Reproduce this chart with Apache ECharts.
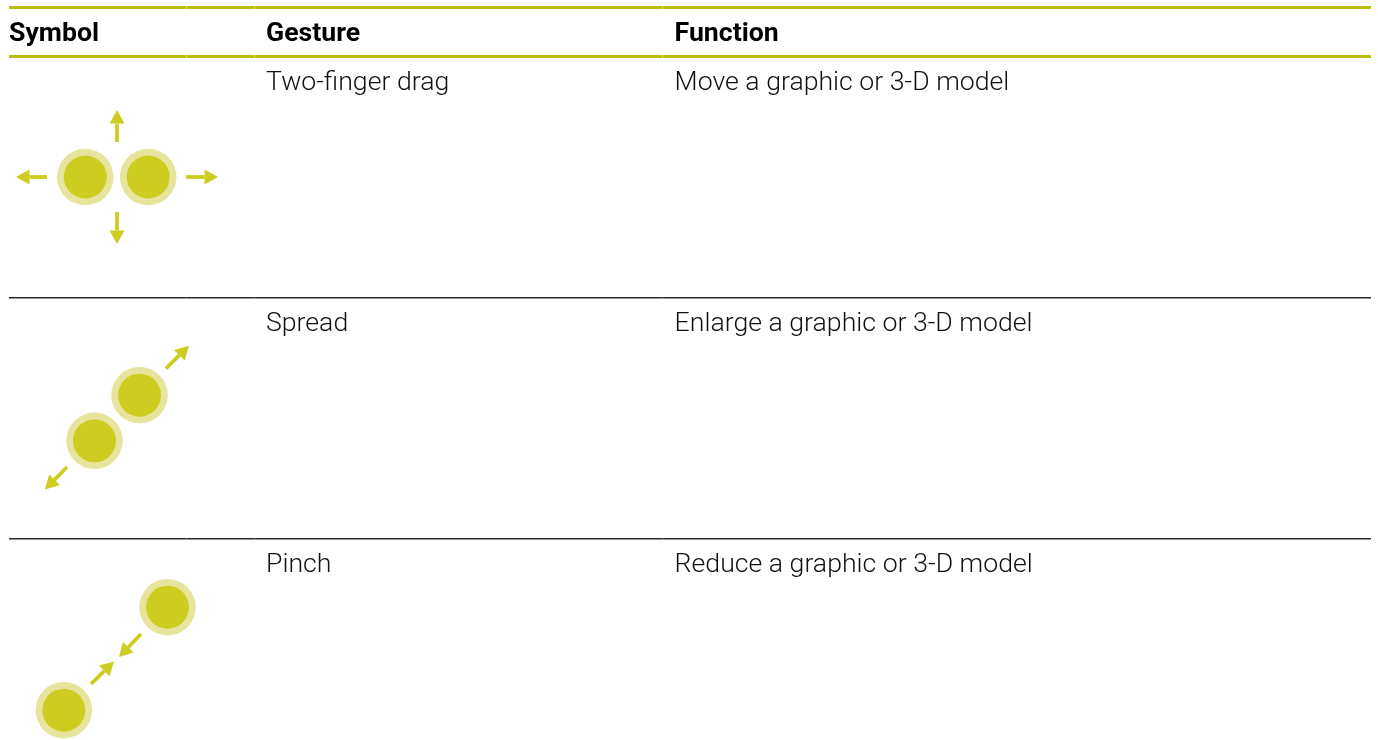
<!DOCTYPE html>
<html>
<head>
<meta charset="utf-8">
<style>html,body{margin:0;padding:0;background:#fff}#c{width:1378px;height:740px}</style>
<script src="https://cdn.jsdelivr.net/npm/echarts@6/dist/echarts.min.js"></script>
</head>
<body>
<div id="c"></div>
<script>
const headers = [[9, 'Symbol'], [266, 'Gesture'], [674.6, 'Function']];
const headerY = 34.5;
const rowLabels = [
  [266, 83.5, 'Two-finger drag'], [674.6, 83.5, 'Move a graphic or 3-D model'],
  [266, 324.5, 'Spread'], [674.6, 324.5, 'Enlarge a graphic or 3-D model'],
  [266, 565.5, 'Pinch'], [674.6, 565.5, 'Reduce a graphic or 3-D model']
];
const columnJoints = [186.5, 254.5, 662.5];
const tableLeft = 9, tableRight = 1371;
const headerRules = [7.5, 56.5];
const rowRules = [297.7, 538.7];
const touches = [[85.3, 177], [148.2, 177], [139.5, 395.2], [94.5, 440.8], [167.5, 607.2], [63.8, 710.2]];
// start x, start y, tip x, tip y
const arrows = [
  [117, 142, 117, 110], [117, 212, 117, 244], [47, 177, 16, 177], [186, 177, 218, 177],
  [166, 368.5, 189, 345.7], [67, 467, 45, 489.5],
  [141, 634, 119, 657], [91, 684, 114, 661.5]
];

function segments(ys, gap) {
  const stops = [tableLeft, ...columnJoints, tableRight];
  const out = [];
  ys.forEach(y => {
    for (let i = 0; i < stops.length - 1; i++) {
      out.push([stops[i] + (i ? gap : 0), y, stops[i + 1] - (i < stops.length - 2 ? gap : 0), y]);
    }
  });
  return out;
}
function ruleSeries(data, color, width) {
  return {
    type: 'custom', data, silent: true, z: 1,
    encode: { x: [0, 2], y: [1, 3] },
    renderItem: (p, api) => {
      const a = api.coord([api.value(0), api.value(1)]);
      const b = api.coord([api.value(2), api.value(3)]);
      return { type: 'line', shape: { x1: a[0], y1: a[1], x2: b[0], y2: b[1] },
        style: { stroke: color, lineWidth: width } };
    }
  };
}
function labelSeries(data, font) {
  return {
    type: 'scatter', data, symbolSize: 0, silent: true, z: 5,
    itemStyle: { opacity: 1 },
    label: {
      show: true, position: 'inside', align: 'left', verticalAlign: 'middle', opacity: 1,
      formatter: p => p.data[2], ...font
    }
  };
}
const chart = echarts.init(document.getElementById('c'), null, { renderer: 'canvas' });
chart.setOption({
  animation: false,
  backgroundColor: '#fff',
  grid: { left: 0, right: 0, top: 0, bottom: 0 },
  xAxis: { type: 'value', min: 0, max: 1378, show: false },
  yAxis: { type: 'value', min: 0, max: 740, inverse: true, show: false },
  tooltip: { show: false },
  series: [
    ruleSeries(segments(headerRules, 0.2), '#b9bd0d', 3),
    ruleSeries(segments(rowRules, 0.05), '#2b2b2b', 1.5),
    labelSeries(headers.map(h => [h[0], headerY, h[1]]),
      { fontFamily: 'Roboto', fontWeight: 700, fontSize: 26.67, color: '#000' }),
    labelSeries(rowLabels,
      { fontFamily: 'Roboto', fontWeight: 300, fontSize: 26.67, color: '#111' }),
    { type: 'scatter', data: touches, symbol: 'circle', symbolSize: 56.5, silent: true, z: 2,
      itemStyle: { color: '#e7e59d', opacity: 1 } },
    { type: 'scatter', data: touches, symbol: 'circle', symbolSize: 43, silent: true, z: 3,
      itemStyle: { color: '#cdcc20', opacity: 1 } },
    {
      type: 'custom', data: arrows, silent: true, z: 4,
      encode: { x: [0, 2], y: [1, 3] },
      renderItem: (p, api) => {
        const s = api.coord([api.value(0), api.value(1)]);
        const t = api.coord([api.value(2), api.value(3)]);
        const dx = t[0] - s[0], dy = t[1] - s[1], len = Math.hypot(dx, dy);
        const ux = dx / len, uy = dy / len, nx = -uy, ny = ux;
        const headLen = 13.5, half = 7.5, stem = 3.8;
        const bx = t[0] - ux * headLen, by = t[1] - uy * headLen;
        return {
          type: 'group',
          children: [
            { type: 'line', shape: { x1: s[0], y1: s[1], x2: bx, y2: by },
              style: { stroke: '#cdcc20', lineWidth: stem } },
            { type: 'polygon',
              shape: { points: [[t[0], t[1]], [bx + nx * half, by + ny * half], [bx - nx * half, by - ny * half]] },
              style: { fill: '#cdcc20' } }
          ]
        };
      }
    }
  ]
});
</script>
</body>
</html>
